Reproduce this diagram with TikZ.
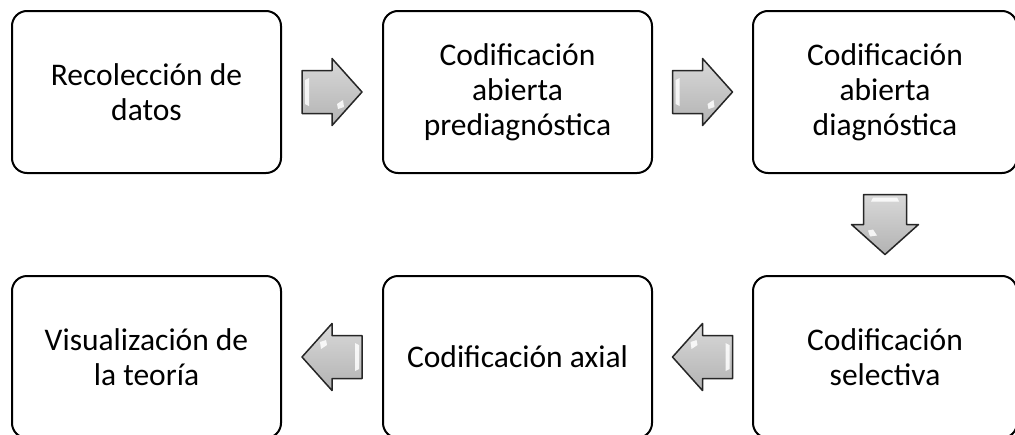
\documentclass[tikz,border=0pt]{standalone}
\usepackage{fontspec}
\setmainfont{Carlito}
\usetikzlibrary{calc}
\tikzset{
  box/.style={draw=black, line width=2pt, rounded corners=15pt,
    minimum width=269pt, minimum height=162pt, align=center,
    font=\fontsize{31.5}{35}\selectfont, text=black, inner sep=0pt},
  arrowbody/.style={draw=black!85, line width=1.5pt, line join=round,
    top color=gray!30, bottom color=gray!60},
  blockarrow/.pic={
    \draw[arrowbody] (-30,-21.5) -- (0,-21.5) -- (0,-33.5) -- (30,0)
      -- (0,33.5) -- (0,21.5) -- (-30,21.5) -- cycle;
    \fill[white, opacity=0.85] (-27,-12) -- (-23,-14) -- (-23,14) -- (-27,12) -- cycle;
    \fill[white, opacity=0.85] (5,12) -- (11,8) -- (12,15) -- (6,17) -- cycle;
  }
}
\begin{document}
\begin{tikzpicture}[x=1pt,y=-1pt]
\useasboundingbox (0,0) rectangle (1015,434);
\clip (0,0) rectangle (1015,434);
\node[box] (b1) at (146.5,92) {Recolección de\\datos};
\node[box] (b2) at (517.5,92) {Codificación\\abierta\\prediagnóstica};
\node[box, minimum width=264pt] (b3) at (885,92) {Codificación\\abierta\\diagnóstica};
\node[box, minimum width=264pt] (b6) at (885,357) {Codificación\\selectiva};
\node[box] (b5) at (517.5,357) {Codificación axial};
\node[box] (b4) at (146.5,357) {Visualización de\\la teoría};
\pic at ($(b1.east)!0.5!(b2.west)$) {blockarrow};
\pic at ($(b2.east)!0.5!(b3.west)$) {blockarrow};
\pic[rotate=-90] at ($(b3.south)!0.5!(b6.north)$) {blockarrow};
\pic[rotate=180] at ($(b6.west)!0.5!(b5.east)$) {blockarrow};
\pic[rotate=180] at ($(b5.west)!0.5!(b4.east)$) {blockarrow};
\end{tikzpicture}
\end{document}
